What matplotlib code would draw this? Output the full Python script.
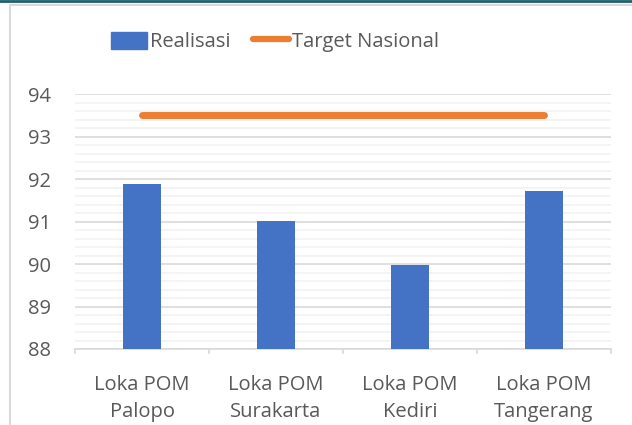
import matplotlib
matplotlib.use("Agg")
import matplotlib.pyplot as plt
from matplotlib.patches import Rectangle
from matplotlib.lines import Line2D
import numpy as np

categories = ["Loka POM\nPalopo", "Loka POM\nSurakarta", "Loka POM\nKediri", "Loka POM\nTangerang"]
realisasi = [91.88, 91.02, 89.97, 91.72]
target = [93.5, 93.5, 93.5, 93.5]
yticks = [88, 89, 90, 91, 92, 93, 94]

plt.rcParams['font.family'] = ['Open Sans', 'DejaVu Sans']
txt = '#595959'
W, H = 632, 425
fig = plt.figure(figsize=(W/100, H/100), dpi=100)
fig.patch.set_facecolor('white')

# outer chart frame
fig.add_artist(Rectangle((10/W, -0.1), 1.0, 1.1 - 5/H, transform=fig.transFigure,
                         fill=False, edgecolor='#d9d9d9', lw=1.5))
fig.add_artist(Line2D([0, 1], [1 - 1/H, 1 - 1/H], transform=fig.transFigure, color='#1f5f6e', lw=2))

ax = fig.add_axes([75/W, 1 - 349/H, (611 - 75)/W, (349 - 94)/H])
x = np.arange(len(categories))
ax.bar(x, realisasi, width=0.28, color='#4472c4', zorder=3, bottom=0)
ax.plot(x, target, color='#ed7d31', lw=5, solid_capstyle='round', zorder=4)
ax.set_ylim(88, 94)
ax.set_xlim(-0.5, 3.5)
ax.set_yticks(yticks)
ax.set_yticks(np.arange(88, 94.01, 0.2), minor=True)
ax.grid(axis='y', which='major', color='#d9d9d9', lw=1.2, zorder=0)
ax.grid(axis='y', which='minor', color='#f2f2f2', lw=1.2, zorder=0)
ax.set_xticks(x)
ax.set_xticklabels(categories, linespacing=1.45)
ax.tick_params(axis='x', which='major', length=0, pad=19, labelsize=14.5, labelcolor=txt)
ax.tick_params(axis='y', which='both', length=0, pad=17, labelsize=14.5, labelcolor=txt)
for b in np.arange(-0.5, 3.6, 1):
    ax.plot([b, b], [88, 88 - 0.1], color='#d9d9d9', lw=1.2, clip_on=False, zorder=2)
for s in ['top', 'right', 'left']:
    ax.spines[s].set_visible(False)
ax.spines['bottom'].set_color('#d9d9d9')
ax.spines['bottom'].set_linewidth(1.2)
ax.set_facecolor('white')

handles = [Rectangle((0, 0), 1, 1, color='#4472c4'),
           Line2D([0], [0], color='#ed7d31', lw=4.5, solid_capstyle='round')]
fig.legend(handles, ['Realisasi', 'Target Nasional'], loc='center', bbox_to_anchor=(275/W, 1 - 42/H),
           ncol=2, frameon=False, fontsize=14.5, labelcolor=txt, handlelength=1.8,
           handleheight=0.9, handletextpad=0.15, columnspacing=1.1)

fig.savefig('out.png', dpi=100, facecolor='white')
